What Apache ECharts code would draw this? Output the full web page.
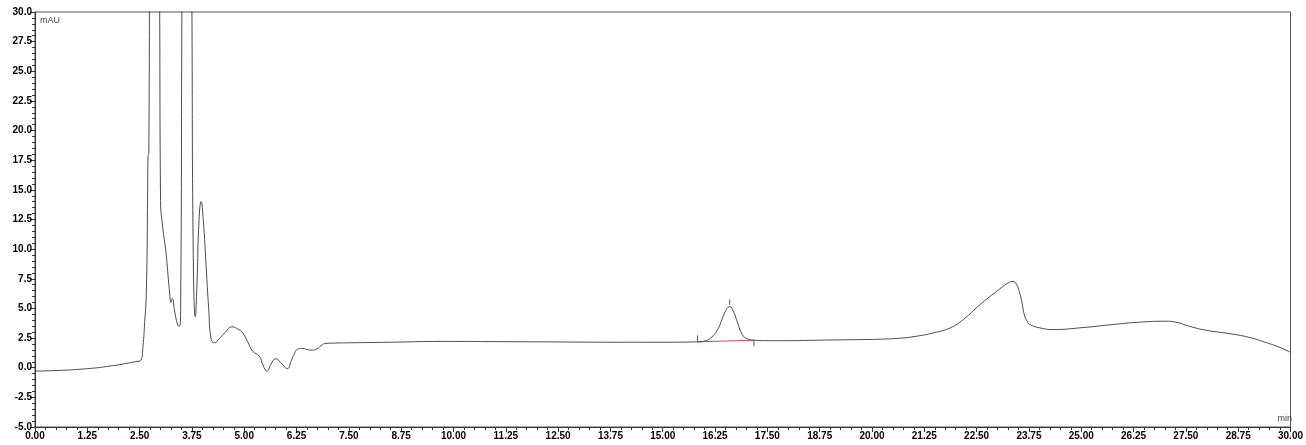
<!DOCTYPE html>
<html>
<head>
<meta charset="utf-8">
<style>
  html, body { margin: 0; padding: 0; background: #fff; }
  #chart { width: 1306px; height: 445px; }
</style>
<script src="https://cdn.jsdelivr.net/npm/echarts@6/dist/echarts.min.js"></script>
</head>
<body>
<div id="chart"></div>
<script>
// Chromatogram trace: retention time (min) and detector response (mAU)
const times = [
  0.00, 0.50, 0.75, 1.00, 1.25, 1.50, 1.79, 2.00, 2.18, 2.35, 2.53, 2.58, 2.62, 2.66, 2.69, 2.70, 2.72,
  2.74, 2.80, 2.86, 2.92, 2.98, 3.00, 3.05, 3.13, 3.21, 3.25, 3.27, 3.29, 3.33, 3.41, 3.45, 3.48,
  3.51, 3.58, 3.63, 3.69, 3.75, 3.78, 3.83, 3.87, 3.92, 3.97, 4.02, 4.09, 4.15, 4.21, 4.29,
  4.40, 4.55, 4.70, 4.83, 4.96, 5.08, 5.20, 5.36, 5.45, 5.54, 5.64, 5.75, 5.88, 6.03, 6.12,
  6.20, 6.30, 6.40, 6.52, 6.63, 6.74, 6.84, 6.95, 7.20, 7.50, 8.50, 9.80, 11.00, 12.20, 13.80, 15.00, 15.83,
  16.00, 16.15, 16.31, 16.43, 16.52, 16.60, 16.69, 16.79, 16.90, 17.02, 17.18, 17.60, 18.00,
  18.69, 19.30, 19.88, 20.30, 20.67, 21.07, 21.47, 21.87, 22.18, 22.58, 22.98, 23.25, 23.37,
  23.45, 23.52, 23.57, 23.65, 23.72, 23.77, 24.01, 24.33, 24.96, 25.75, 26.39, 27.02, 27.26,
  27.58, 27.98, 28.53, 29.00, 29.40, 29.72, 30.00
];
const signal = [
  -0.29, -0.24, -0.20, -0.15, -0.08, 0.00, 0.14, 0.24, 0.36, 0.48, 0.64, 1.8, 3.8, 6.3, 14.0, 17.8, 18.1,
  40, 95, 110, 80, 30, 14.1, 11.9, 9.7, 6.6, 5.5, 5.8, 5.8, 4.9, 3.6, 3.5, 5.0,
  30, 80, 100, 70, 30, 10, 4.3, 7.0, 12.5, 14.0, 12.5, 8.5, 5.0, 2.4, 2.1,
  2.44, 3.0, 3.45, 3.3, 2.94, 2.2, 1.4, 0.97, 0.2, -0.29, 0.3, 0.76, 0.4, -0.08, 0.55,
  1.2, 1.6, 1.62, 1.52, 1.48, 1.6, 1.88, 2.05, 2.08, 2.1, 2.15, 2.22, 2.2, 2.18, 2.15, 2.15, 2.18,
  2.25, 2.52, 3.2, 4.2, 4.9, 5.15, 4.73, 3.78, 2.8, 2.44, 2.32, 2.28, 2.28,
  2.32, 2.35, 2.38, 2.42, 2.49, 2.66, 2.94, 3.36, 4.06, 5.32, 6.44, 7.14, 7.28,
  7.05, 6.4, 5.74, 4.34, 3.85, 3.64, 3.36, 3.22, 3.36, 3.64, 3.84, 3.92, 3.84,
  3.5, 3.16, 2.88, 2.57, 2.14, 1.75, 1.30
];

// Integration events for the peak near 16.6 min
const peakStart = [15.83, 2.18];
const peakEnd = [17.18, 2.32];
const peakApex = [16.60, 5.15];

// Axis settings
const xMin = 0, xMax = 30, xStep = 1.25;
const yMin = -5, yMax = 30, yStep = 2.5;

const trace = times.map((t, i) => [t, signal[i]]);

const tickFont = { fontFamily: 'Liberation Sans, Arial, sans-serif', fontWeight: 'bold', fontSize: 10, color: '#000' };
const markBlue = '#4b3fd0';

const chart = echarts.init(document.getElementById('chart'), null, { renderer: 'canvas' });
chart.setOption({
  animation: false,
  backgroundColor: '#fff',
  grid: { left: 35, right: 8, top: 12, bottom: 18, show: true, borderColor: '#555', borderWidth: 1 },
  xAxis: {
    type: 'value', min: xMin, max: xMax, interval: xStep,
    axisLine: { show: true, onZero: false, lineStyle: { color: '#333', width: 1 } },
    axisTick: { show: true, length: 5, inside: false, lineStyle: { color: '#333' } },
    minorTick: { show: true, splitNumber: 5, length: 3, lineStyle: { color: '#333' } },
    splitLine: { show: false },
    axisLabel: Object.assign({ margin: 4, formatter: v => v.toFixed(2) }, tickFont)
  },
  yAxis: {
    type: 'value', min: yMin, max: yMax, interval: yStep,
    axisLine: { show: true, onZero: false, lineStyle: { color: '#333', width: 1 } },
    axisTick: { show: true, length: 5, inside: false, lineStyle: { color: '#333' } },
    minorTick: { show: true, splitNumber: 5, length: 3, lineStyle: { color: '#333' } },
    splitLine: { show: false },
    axisLabel: Object.assign({ margin: 3, formatter: v => v.toFixed(1) }, tickFont)
  },
  graphic: [
    { type: 'text', left: 40, top: 16, style: { text: 'mAU', fontFamily: 'Liberation Sans, Arial, sans-serif', fontSize: 9, fill: '#444' } },
    { type: 'text', right: 14, top: 414, style: { text: 'min', fontFamily: 'Liberation Sans, Arial, sans-serif', fontSize: 9, fill: '#444' } }
  ],
  series: [
    {
      type: 'line', data: trace, showSymbol: false, smooth: 0.5,
      lineStyle: { color: '#4a4a4a', width: 1 }, clip: true, z: 3
    },
    {
      type: 'line', data: [peakStart, peakEnd], showSymbol: false,
      lineStyle: { color: '#e04848', width: 1 }, z: 2
    },
    {
      type: 'line', data: [peakStart, [peakStart[0], peakStart[1] + 0.55]], showSymbol: false,
      lineStyle: { color: markBlue, width: 1 }, z: 4
    },
    {
      type: 'line', data: [peakEnd, [peakEnd[0], peakEnd[1] - 0.5]], showSymbol: false,
      lineStyle: { color: markBlue, width: 1 }, z: 4
    },
    {
      type: 'line', data: [[peakApex[0], peakApex[1] + 0.15], [peakApex[0], peakApex[1] + 0.6]], showSymbol: false,
      lineStyle: { color: markBlue, width: 1 }, z: 4
    }
  ]
});
</script>
</body>
</html>
